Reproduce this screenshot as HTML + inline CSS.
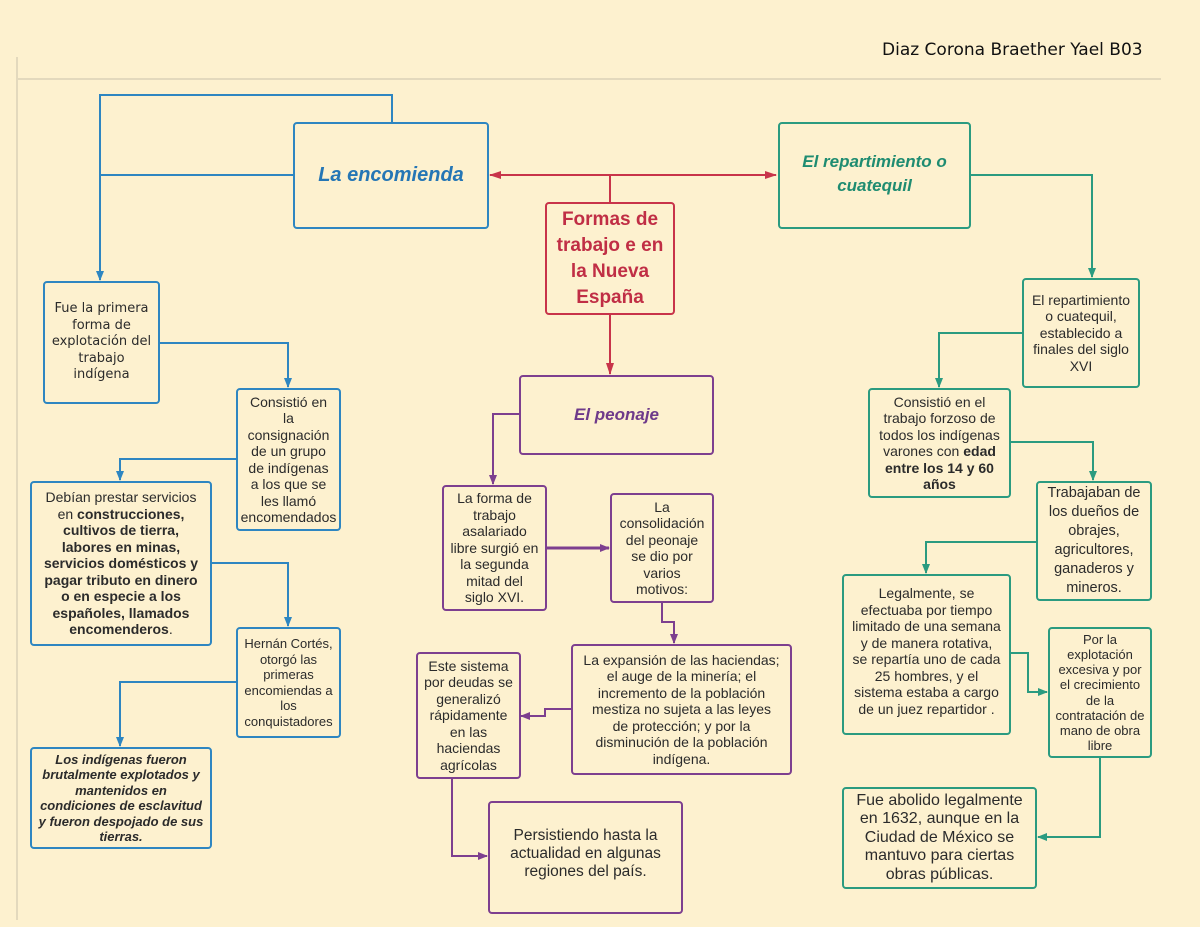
<!DOCTYPE html>
<html><head><meta charset="utf-8"><style>
body{margin:0;width:1200px;height:927px;background:#fdf1cf;position:relative;overflow:hidden;font-family:"Liberation Sans",sans-serif;color:#2b2b2b}
.b{position:absolute;box-sizing:border-box;border:2.5px solid;border-radius:4px;display:flex;align-items:center;justify-content:center;text-align:center;font-size:14px;line-height:16.5px;padding:0;white-space:nowrap}
.b>div{width:100%}
.bl{border-color:#2e86c1}.tl{border-color:#2b9b80}.rd{border-color:#c8344a}.pu{border-color:#7d3f8f}
svg{position:absolute;left:0;top:0}
</style></head><body>
<div style="position:absolute;left:882px;top:40px;font-size:17px;color:#111;font-family:'DejaVu Sans',sans-serif">Diaz Corona Braether Yael B03</div>
<div style="position:absolute;left:17px;top:78px;width:1144px;height:2px;background:#e3d9bd"></div>
<div style="position:absolute;left:16px;top:57px;width:2px;height:863px;background:#e3d9bd"></div>
<svg width="1200" height="927" fill="none" stroke-width="2">
<defs>
<marker id="ab" markerWidth="10" markerHeight="10" refX="9" refY="5" orient="auto" markerUnits="userSpaceOnUse"><path d="M0,1 L10,5 L0,9z" fill="#2e86c1"/></marker>
<marker id="at" markerWidth="10" markerHeight="10" refX="9" refY="5" orient="auto" markerUnits="userSpaceOnUse"><path d="M0,1 L10,5 L0,9z" fill="#2b9b80"/></marker>
<marker id="ar" markerWidth="12" markerHeight="10" refX="11" refY="5" orient="auto" markerUnits="userSpaceOnUse"><path d="M0,1 L12,5 L0,9z" fill="#c8344a"/></marker>
<marker id="ap" markerWidth="10" markerHeight="10" refX="9" refY="5" orient="auto" markerUnits="userSpaceOnUse"><path d="M0,1 L10,5 L0,9z" fill="#7d3f8f"/></marker>
</defs>
<g stroke="#2e86c1">
<path d="M392,122 V95 H100 V280" marker-end="url(#ab)"/>
<path d="M293,175 H100"/>
<path d="M159,343 H288 V387" marker-end="url(#ab)"/>
<path d="M236,459 H120 V480" marker-end="url(#ab)"/>
<path d="M211,563 H288 V626" marker-end="url(#ab)"/>
<path d="M236,682 H120 V746" marker-end="url(#ab)"/>
</g>
<g stroke="#c8344a">
<path d="M610,202 V175"/>
<path d="M610,175 H490" marker-end="url(#ar)"/>
<path d="M610,175 H776" marker-end="url(#ar)"/>
<path d="M610,314 V374" marker-end="url(#ar)"/>
</g>
<g stroke="#7d3f8f">
<path d="M519,414 H493 V484" marker-end="url(#ap)"/>
<path d="M546,548 H609" stroke-width="3" marker-end="url(#ap)"/>
<path d="M662,602 V622 H674 V643" marker-end="url(#ap)"/>
<path d="M571,709 H545 V716 H521" marker-end="url(#ap)"/>
<path d="M452,778 V856 H487" marker-end="url(#ap)"/>
</g>
<g stroke="#2b9b80">
<path d="M970,175 H1092 V277" marker-end="url(#at)"/>
<path d="M1022,333 H939 V387" marker-end="url(#at)"/>
<path d="M1010,442 H1093 V480" marker-end="url(#at)"/>
<path d="M1036,542 H926 V573" marker-end="url(#at)"/>
<path d="M1010,653 H1028 V692 H1047" marker-end="url(#at)"/>
<path d="M1100,757 V837 H1038" marker-end="url(#at)"/>
</g>
</svg>
<div class="b bl" style="left:293px;top:122px;width:196px;height:107px;color:#2576b5;font-size:20px;font-weight:bold;font-style:italic"><div>La encomienda</div></div>
<div class="b tl" style="left:778px;top:122px;width:193px;height:107px;color:#1f8c71;font-size:17px;line-height:24px;font-weight:bold;font-style:italic;align-items:flex-start;padding-top:26px"><div>El repartimiento o<br>cuatequil</div></div>
<div class="b rd" style="left:545px;top:202px;width:130px;height:113px;color:#c02e45;font-size:19px;line-height:26px;font-weight:bold"><div>Formas de<br>trabajo e en<br>la Nueva<br>España</div></div>
<div class="b pu" style="left:519px;top:375px;width:195px;height:80px;color:#6e3a8a;font-size:17px;font-weight:bold;font-style:italic"><div>El peonaje</div></div>
<div class="b bl" style="left:43px;top:281px;width:117px;height:123px;font-family:'DejaVu Sans',sans-serif;font-size:13px"><div>Fue la primera<br>forma de<br>explotación del<br>trabajo<br>indígena</div></div>
<div class="b bl" style="left:236px;top:388px;width:105px;height:143px"><div>Consistió en<br>la<br>consignación<br>de un grupo<br>de indígenas<br>a los que se<br>les llamó<br>encomendados</div></div>
<div class="b bl" style="left:30px;top:481px;width:182px;height:165px"><div>Debían prestar servicios<br>en <b>construcciones,<br>cultivos de tierra,<br>labores en minas,<br>servicios domésticos y<br>pagar tributo en dinero<br>o en especie a los<br>españoles, llamados<br>encomenderos</b>.</div></div>
<div class="b bl" style="left:236px;top:627px;width:105px;height:111px;font-size:13px;line-height:15.5px"><div>Hernán Cortés,<br>otorgó las<br>primeras<br>encomiendas a<br>los<br>conquistadores</div></div>
<div class="b bl" style="left:30px;top:747px;width:182px;height:102px;font-size:13px;line-height:15.5px;font-weight:bold;font-style:italic"><div>Los indígenas fueron<br>brutalmente explotados y<br>mantenidos en<br>condiciones de esclavitud<br>y fueron despojado de sus<br>tierras.</div></div>
<div class="b pu" style="left:442px;top:485px;width:105px;height:126px"><div>La forma de<br>trabajo<br>asalariado<br>libre surgió en<br>la segunda<br>mitad del<br>siglo XVI.</div></div>
<div class="b pu" style="left:610px;top:493px;width:104px;height:110px"><div>La<br>consolidación<br>del peonaje<br>se dio por<br>varios<br>motivos:</div></div>
<div class="b pu" style="left:416px;top:652px;width:105px;height:127px"><div>Este sistema<br>por deudas se<br>generalizó<br>rápidamente<br>en las<br>haciendas<br>agrícolas</div></div>
<div class="b pu" style="left:571px;top:644px;width:221px;height:131px"><div>La expansión de las haciendas;<br>el auge de la minería; el<br>incremento de la población<br>mestiza no sujeta a las leyes<br>de protección; y por la<br>disminución de la población<br>indígena.</div></div>
<div class="b pu" style="left:488px;top:801px;width:195px;height:113px;font-size:15.5px;line-height:18px;align-items:flex-start;padding-top:24px"><div>Persistiendo hasta la<br>actualidad en algunas<br>regiones del país.</div></div>
<div class="b tl" style="left:1022px;top:278px;width:118px;height:110px"><div>El repartimiento<br>o cuatequil,<br>establecido a<br>finales del siglo<br>XVI</div></div>
<div class="b tl" style="left:868px;top:388px;width:143px;height:110px"><div>Consistió en el<br>trabajo forzoso de<br>todos los indígenas<br>varones con <b>edad<br>entre los 14 y 60<br>años</b></div></div>
<div class="b tl" style="left:1036px;top:481px;width:116px;height:120px;font-size:14.5px;line-height:19px"><div>Trabajaban de<br>los dueños de<br>obrajes,<br>agricultores,<br>ganaderos y<br>mineros.</div></div>
<div class="b tl" style="left:842px;top:574px;width:169px;height:161px;align-items:flex-start;padding-top:9px"><div>Legalmente, se<br>efectuaba por tiempo<br>limitado de una semana<br>y de manera rotativa,<br>se repartía uno de cada<br>25 hombres, y el<br>sistema estaba a cargo<br>de un juez repartidor .</div></div>
<div class="b tl" style="left:1048px;top:627px;width:104px;height:131px;font-size:13px;line-height:15.2px"><div>Por la<br>explotación<br>excesiva y por<br>el crecimiento<br>de la<br>contratación de<br>mano de obra<br>libre</div></div>
<div class="b tl" style="left:842px;top:787px;width:195px;height:102px;font-size:16px;line-height:18.5px"><div>Fue abolido legalmente<br>en 1632, aunque en la<br>Ciudad de México se<br>mantuvo para ciertas<br>obras públicas.</div></div>
</body></html>
